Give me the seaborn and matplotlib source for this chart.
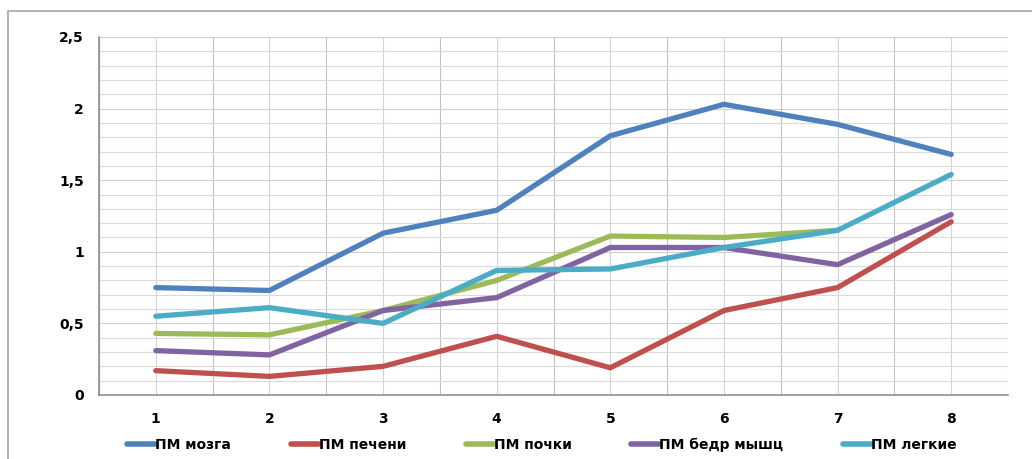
import numpy as np
import pandas as pd
import matplotlib
matplotlib.use('Agg')
import matplotlib.pyplot as plt
import seaborn as sns
from matplotlib.patches import Rectangle
from matplotlib.ticker import MultipleLocator, FixedLocator

# data
points = [1, 2, 3, 4, 5, 6, 7, 8]
series_names = ['ПМ мозга', 'ПМ печени', 'ПМ почки', 'ПМ бедр мышц', 'ПМ легкие']
pm_brain = [0.75, 0.73, 1.13, 1.29, 1.81, 2.03, 1.89, 1.68]
pm_liver = [0.17, 0.13, 0.20, 0.41, 0.19, 0.59, 0.75, 1.21]
pm_kidney = [0.43, 0.42, 0.59, 0.80, 1.11, 1.10, 1.15, np.nan]
pm_muscle = [0.31, 0.28, 0.59, 0.68, 1.03, 1.03, 0.91, 1.26]
pm_lung = [0.55, 0.61, 0.50, 0.87, 0.88, 1.03, 1.15, 1.54]
y_ticks = [0, 0.5, 1, 1.5, 2, 2.5]
y_tick_labels = ['0', '0,5', '1', '1,5', '2', '2,5']

colors = ['#4F81BD', '#C0504D', '#9BBB59', '#8064A2', '#4BACC6']

rows = []
for name, vals in zip(series_names, [pm_brain, pm_liver, pm_kidney, pm_muscle, pm_lung]):
    for x, v in zip(points, vals):
        rows.append({'x': x, 'y': v, 'series': name})
df = pd.DataFrame(rows)

sns.set_style('white')
plt.rcParams['font.family'] = ['DejaVu Sans']
plt.rcParams['text.color'] = 'black'
plt.rcParams['xtick.labelcolor'] = 'black'
plt.rcParams['ytick.labelcolor'] = 'black'

fig = plt.figure(figsize=(10.32, 4.59), dpi=100)
ax = fig.add_axes([99 / 1032, 1 - 395 / 459, 909 / 1032, 358 / 459])

sns.lineplot(data=df, x='x', y='y', hue='series', hue_order=series_names,
             palette=colors, linewidth=3.8, ax=ax, legend=False,
             solid_capstyle='round', solid_joinstyle='round', zorder=3)

ax.set_xlim(0.5, 8.5)
ax.set_ylim(0, 2.5)

# grid like the Excel chart: minor every 0.1, vertical at categories and between them
ax.yaxis.set_major_locator(FixedLocator(y_ticks))
ax.yaxis.set_minor_locator(MultipleLocator(0.1))
ax.set_yticklabels(y_tick_labels)
ax.xaxis.set_major_locator(FixedLocator(points))
ax.xaxis.set_minor_locator(FixedLocator(np.arange(0.5, 9, 1)))
ax.set_xticklabels([str(p) for p in points])

ax.grid(True, which='major', axis='y', color='#d0d0d0', lw=0.8)
ax.grid(True, which='minor', axis='y', color='#dadada', lw=0.8)
ax.grid(True, which='major', axis='x', color='#d4d4d4', lw=0.8)
ax.grid(True, which='minor', axis='x', color='#c2c2c2', lw=0.8)
ax.set_axisbelow(True)

ax.tick_params(axis='y', which='major', length=5, width=0.9, color='#868686', pad=6,
               labelsize=10)
ax.tick_params(axis='y', which='minor', length=0)
ax.tick_params(axis='x', which='major', length=0, pad=12, labelsize=10)
ax.tick_params(axis='x', which='minor', length=5, width=0.9, color='#868686')
for lab in ax.get_xticklabels() + ax.get_yticklabels():
    lab.set_fontweight('bold')

for side in ['left', 'bottom']:
    ax.spines[side].set_color('#868686')
    ax.spines[side].set_linewidth(1.1)
ax.spines['top'].set_visible(False)
ax.spines['right'].set_visible(False)
ax.set_xlabel('')
ax.set_ylabel('')

# legend along the bottom
handles = [plt.Line2D([], [], color=c, lw=4, solid_capstyle='round') for c in colors]
fig.legend(handles, series_names, loc='center', bbox_to_anchor=(0.525, 1 - 445 / 459),
           ncol=5, frameon=False, handlelength=2.0, handletextpad=0.0,
           columnspacing=4.3, prop={'weight': 'bold', 'size': 10})

# outer chart frame
fig.patches.append(Rectangle((8 / 1032, -0.05), 1.2, 1 - 11 / 459 + 0.05,
                             transform=fig.transFigure, fill=False,
                             edgecolor='#a6a6a6', lw=1.2))

fig.savefig('out.png', dpi=100)
